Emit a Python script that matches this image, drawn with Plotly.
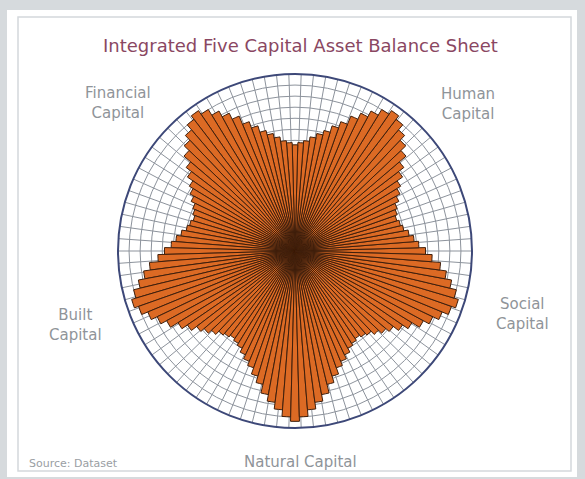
import plotly.graph_objects as go

W, H = 585, 479

# Star-shaped balance values, one per thin segment (120 segments, 3 deg each, starting due east)
segment_values = [
    59, 56, 54, 52, 50, 49,
    48, 49, 50, 52, 54, 56, 59, 62, 66, 69, 72, 75, 77, 75, 72, 69, 66, 62, 59, 56, 54, 52, 50, 49,
    48, 49, 50, 52, 54, 56, 59, 62, 66, 69, 72, 75, 77, 75, 72, 69, 66, 62, 59, 56, 54, 52, 50, 49,
    48, 49, 50, 52, 54, 56, 59, 62, 66, 69, 72, 75, 77, 75, 72, 69, 66, 62, 59, 56, 54, 52, 50, 49,
    48, 49, 50, 52, 54, 56, 59, 62, 66, 69, 72, 75, 77, 75, 72, 69, 66, 62, 59, 56, 54, 52, 50, 49,
    48, 49, 50, 52, 54, 56, 59, 62, 66, 69, 72, 75, 77, 75, 72, 69, 66, 62,
]
n_seg = len(segment_values)
seg_width = 360.0 / n_seg
segment_angles = [i * seg_width for i in range(n_seg)]

capital_labels = ["Financial<br>Capital", "Human<br>Capital", "Social<br>Capital",
                  "Natural Capital", "Built<br>Capital"]
title_text = "Integrated Five Capital Asset Balance Sheet"
source_text = "Source: Dataset"

FONT = "DejaVu Sans"


def px_x(x):
    return x / W


def px_y(y):
    return 1 - y / H


fig = go.Figure()
fig.add_trace(go.Barpolar(
    r=segment_values,
    theta=segment_angles,
    width=[seg_width] * n_seg,
    marker=dict(color="#dc6a24", line=dict(color="#3f1f0c", width=1.0)),
    opacity=1,
    hoverinfo="r+theta",
))

cx, cy, rad = 295, 251, 177
fig.update_layout(
    width=W, height=H,
    margin=dict(l=0, r=0, t=0, b=0),
    paper_bgcolor="#d6dadd",
    showlegend=False,
    polar=dict(
        domain=dict(x=[px_x(cx - rad), px_x(cx + rad)], y=[px_y(cy + rad), px_y(cy - rad)]),
        bgcolor="white",
        bargap=0,
        angularaxis=dict(
            rotation=0, direction="counterclockwise",
            tick0=0, dtick=4,
            showticklabels=False, ticks="",
            gridcolor="#8d939c", gridwidth=0.8,
            linecolor="#3d4878", linewidth=2,
        ),
        radialaxis=dict(
            range=[0, 80], tick0=0, dtick=5,
            showticklabels=False, ticks="", showline=False,
            gridcolor="#8d939c", gridwidth=0.8,
        ),
    ),
    shapes=[
        dict(type="rect", xref="paper", yref="paper", x0=px_x(7), x1=px_x(577),
             y0=px_y(477), y1=px_y(10), fillcolor="white", line=dict(width=0), layer="below"),
        dict(type="rect", xref="paper", yref="paper", x0=px_x(18), x1=px_x(571),
             y0=px_y(471), y1=px_y(17), fillcolor="rgba(0,0,0,0)",
             line=dict(color="#d4d8dc", width=1.5), layer="below"),
    ],
)

label_pos = [(118, 103), (468, 104), (522, 314), (300, 462), (75, 325)]
for txt, (x, y) in zip(capital_labels, label_pos):
    fig.add_annotation(x=px_x(x), y=px_y(y), xref="paper", yref="paper", text=txt,
                       showarrow=False, xanchor="center", yanchor="middle",
                       font=dict(family=FONT, size=15, color="#8f9499"), align="center")

fig.add_annotation(x=px_x(301), y=px_y(45), xref="paper", yref="paper", text=title_text,
                   showarrow=False, xanchor="center", yanchor="middle",
                   font=dict(family=FONT, size=18, color="#8a4762"))
fig.add_annotation(x=px_x(27), y=px_y(463), xref="paper", yref="paper", text=source_text,
                   showarrow=False, xanchor="left", yanchor="middle",
                   font=dict(family=FONT, size=11, color="#9a9ea3"))

fig.write_html("out.html",
               config={"displayModeBar": False},
               post_script="document.body.style.margin='0';document.body.style.background='#d6dadd';")
